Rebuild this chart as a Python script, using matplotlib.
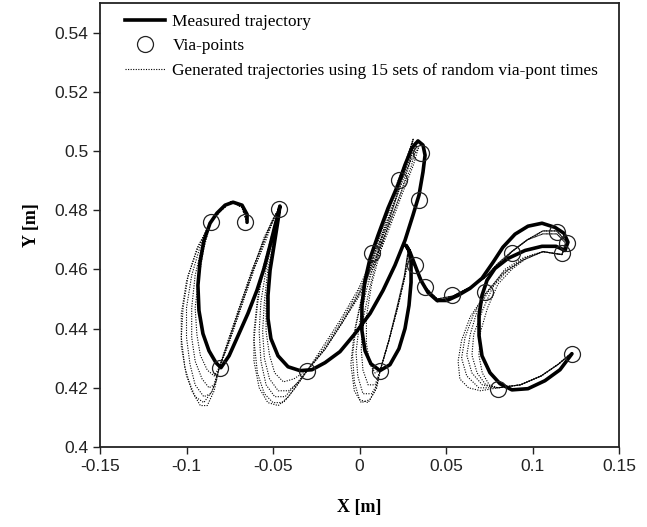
import matplotlib
matplotlib.use("Agg")
import matplotlib.pyplot as plt
from matplotlib.lines import Line2D

# measured pen trajectory for the cursive "abc" [m]
meas_x = [-0.0650, -0.0650, -0.0679, -0.0731, -0.0777, -0.0824, -0.0864, -0.0899, -0.0922, -0.0934,
          -0.0928, -0.0905, -0.0870, -0.0830, -0.0801, -0.0754, -0.0702, -0.0645, -0.0593, -0.0552,
          -0.0517, -0.0488, -0.0465, -0.0460, -0.0471, -0.0494, -0.0517, -0.0529, -0.0529, -0.0512,
          -0.0471, -0.0413, -0.0344, -0.0275, -0.0199, -0.0113, -0.0026, 0.0061, 0.0136, 0.0205,
          0.0263, 0.0309, 0.0344, 0.0367, 0.0379, 0.0367, 0.0338, 0.0303, 0.0263, 0.0222,
          0.0165, 0.0107, 0.0061, 0.0032, 0.0014, 0.0014, 0.0032, 0.0066, 0.0118, 0.0176,
          0.0228, 0.0263, 0.0286, 0.0298, 0.0298, 0.0286, 0.0269, 0.0292, 0.0321, 0.0355,
          0.0396, 0.0448, 0.0506, 0.0569, 0.0639, 0.0708, 0.0772, 0.0829, 0.0899, 0.0974,
          0.1055, 0.1130, 0.1182, 0.1205, 0.1188, 0.1136, 0.1055, 0.0957, 0.0858, 0.0783,
          0.0737, 0.0708, 0.0691, 0.0691, 0.0708, 0.0754, 0.0812, 0.0881, 0.0974, 0.1072,
          0.1159, 0.1228]
meas_y = [0.4759, 0.4786, 0.4817, 0.4827, 0.4817, 0.4790, 0.4756, 0.4698, 0.4624, 0.4546,
          0.4461, 0.4383, 0.4325, 0.4285, 0.4268, 0.4308, 0.4376, 0.4451, 0.4529, 0.4603,
          0.4681, 0.4749, 0.4800, 0.4814, 0.4766, 0.4681, 0.4597, 0.4512, 0.4434, 0.4366,
          0.4308, 0.4271, 0.4258, 0.4261, 0.4285, 0.4322, 0.4383, 0.4451, 0.4529, 0.4614,
          0.4698, 0.4783, 0.4851, 0.4929, 0.4986, 0.5020, 0.5034, 0.5010, 0.4953, 0.4885,
          0.4807, 0.4715, 0.4637, 0.4563, 0.4478, 0.4393, 0.4325, 0.4281, 0.4258, 0.4278,
          0.4332, 0.4400, 0.4478, 0.4556, 0.4624, 0.4664, 0.4681, 0.4658, 0.4614, 0.4563,
          0.4522, 0.4495, 0.4495, 0.4512, 0.4536, 0.4570, 0.4624, 0.4675, 0.4719, 0.4746,
          0.4756, 0.4742, 0.4722, 0.4692, 0.4664, 0.4678, 0.4678, 0.4664, 0.4637, 0.4603,
          0.4563, 0.4512, 0.4444, 0.4376, 0.4308, 0.4251, 0.4214, 0.4193, 0.4197, 0.4224,
          0.4261, 0.4315]

# via-points
via_x = [-0.0858, -0.0662, -0.0465, -0.0806, -0.0304, 0.0355, 0.0228, 0.0344, 0.0072, 0.0118,
         0.0321, 0.0379, 0.0535, 0.0725, 0.0881, 0.1142, 0.1199, 0.1170, 0.0800, 0.1228]
via_y = [0.4759, 0.4759, 0.4803, 0.4268, 0.4258, 0.4993, 0.4902, 0.4834, 0.4654, 0.4258,
         0.4614, 0.4539, 0.4512, 0.4522, 0.4654, 0.4725, 0.4688, 0.4654, 0.4197, 0.4315]

# generated trajectories (random via-point timing)
gen1_x = [-0.065, -0.068, -0.074, -0.080, -0.086, -0.093, -0.099, -0.102, -0.103, -0.101, -0.097, -0.092,
          -0.088, -0.084, -0.081, -0.075, -0.068, -0.061, -0.054, -0.048, -0.046, -0.050, -0.055, -0.059,
          -0.061, -0.061, -0.058, -0.053, -0.047, -0.041, -0.035, -0.030, -0.021, -0.011, -0.001, 0.008,
          0.016, 0.023, 0.028, 0.031, 0.027, 0.022, 0.015, 0.008, 0.002, -0.002, -0.004, -0.003,
          0.000, 0.005, 0.009, 0.012, 0.017, 0.022, 0.026, 0.029, 0.032, 0.038, 0.045, 0.054,
          0.064, 0.072, 0.080, 0.088, 0.097, 0.106, 0.114, 0.120, 0.117, 0.106, 0.094, 0.083,
          0.073, 0.066, 0.061, 0.059, 0.062, 0.069, 0.080, 0.093, 0.105, 0.115, 0.123]
gen1_y = [0.476, 0.481, 0.483, 0.480, 0.476, 0.468, 0.458, 0.447, 0.437, 0.427, 0.419, 0.414,
          0.414, 0.419, 0.427, 0.436, 0.448, 0.460, 0.471, 0.479, 0.481, 0.472, 0.461, 0.450,
          0.439, 0.429, 0.420, 0.415, 0.414, 0.417, 0.422, 0.426, 0.433, 0.442, 0.452, 0.463,
          0.475, 0.487, 0.497, 0.504, 0.497, 0.489, 0.477, 0.464, 0.452, 0.441, 0.431, 0.422,
          0.416, 0.415, 0.419, 0.426, 0.436, 0.447, 0.457, 0.464, 0.461, 0.454, 0.449, 0.451,
          0.454, 0.457, 0.461, 0.466, 0.470, 0.473, 0.473, 0.469, 0.465, 0.466, 0.463, 0.459,
          0.452, 0.445, 0.437, 0.430, 0.424, 0.420, 0.420, 0.421, 0.424, 0.428, 0.432]

gen2_x = [-0.065, -0.068, -0.074, -0.080, -0.086, -0.092, -0.097, -0.100, -0.100, -0.098, -0.095, -0.090,
          -0.086, -0.083, -0.081, -0.075, -0.068, -0.061, -0.055, -0.049, -0.046, -0.050, -0.054, -0.057,
          -0.058, -0.057, -0.054, -0.049, -0.043, -0.037, -0.030, -0.021, -0.011, -0.001, 0.008, 0.016,
          0.023, 0.029, 0.032, 0.028, 0.023, 0.016, 0.010, 0.004, 0.000, -0.002, -0.001, 0.002,
          0.007, 0.010, 0.012, 0.017, 0.022, 0.026, 0.028, 0.032, 0.038, 0.045, 0.054, 0.064,
          0.072, 0.080, 0.088, 0.097, 0.106, 0.114, 0.120, 0.117, 0.106, 0.095, 0.084, 0.075,
          0.068, 0.064, 0.062, 0.065, 0.071, 0.080, 0.093, 0.105, 0.115, 0.123]
gen2_y = [0.476, 0.481, 0.483, 0.480, 0.476, 0.468, 0.458, 0.447, 0.437, 0.428, 0.421, 0.417,
          0.418, 0.422, 0.427, 0.437, 0.449, 0.461, 0.471, 0.478, 0.481, 0.471, 0.460, 0.449,
          0.439, 0.429, 0.421, 0.417, 0.417, 0.421, 0.426, 0.434, 0.443, 0.453, 0.464, 0.476,
          0.487, 0.496, 0.503, 0.498, 0.490, 0.478, 0.465, 0.453, 0.442, 0.432, 0.424, 0.418,
          0.418, 0.421, 0.426, 0.436, 0.447, 0.457, 0.465, 0.461, 0.454, 0.450, 0.451, 0.454,
          0.457, 0.462, 0.466, 0.470, 0.473, 0.473, 0.469, 0.465, 0.466, 0.464, 0.460, 0.453,
          0.446, 0.438, 0.431, 0.425, 0.421, 0.420, 0.421, 0.424, 0.428, 0.432]

gen3_x = [-0.065, -0.068, -0.074, -0.080, -0.086, -0.091, -0.095, -0.097, -0.097, -0.095, -0.091, -0.087,
          -0.084, -0.081, -0.076, -0.069, -0.062, -0.055, -0.050, -0.046, -0.049, -0.053, -0.055, -0.056,
          -0.055, -0.052, -0.047, -0.041, -0.035, -0.030, -0.020, -0.010, 0.000, 0.009, 0.017, 0.024,
          0.030, 0.033, 0.029, 0.024, 0.017, 0.011, 0.006, 0.002, 0.001, 0.002, 0.005, 0.009,
          0.012, 0.017, 0.022, 0.026, 0.028, 0.032, 0.038, 0.045, 0.054, 0.064, 0.072, 0.080,
          0.088, 0.097, 0.106, 0.114, 0.119, 0.117, 0.106, 0.096, 0.086, 0.077, 0.071, 0.066,
          0.065, 0.068, 0.073, 0.080, 0.093, 0.105, 0.115, 0.123]
gen3_y = [0.476, 0.481, 0.483, 0.480, 0.476, 0.468, 0.458, 0.447, 0.437, 0.429, 0.423, 0.420,
          0.421, 0.427, 0.436, 0.448, 0.460, 0.470, 0.477, 0.481, 0.471, 0.460, 0.449, 0.439,
          0.430, 0.423, 0.419, 0.419, 0.422, 0.426, 0.433, 0.442, 0.452, 0.463, 0.475, 0.486,
          0.495, 0.502, 0.497, 0.490, 0.478, 0.466, 0.454, 0.443, 0.433, 0.426, 0.421, 0.421,
          0.426, 0.436, 0.448, 0.458, 0.466, 0.461, 0.454, 0.450, 0.451, 0.454, 0.457, 0.462,
          0.466, 0.470, 0.472, 0.472, 0.469, 0.465, 0.466, 0.464, 0.460, 0.454, 0.446, 0.438,
          0.431, 0.425, 0.421, 0.420, 0.421, 0.424, 0.428, 0.432]

gen4_x = [-0.065, -0.068, -0.074, -0.080, -0.086, -0.090, -0.093, -0.095, -0.094, -0.092, -0.088, -0.084,
          -0.081, -0.076, -0.070, -0.063, -0.056, -0.050, -0.046, -0.049, -0.052, -0.054, -0.054, -0.052,
          -0.049, -0.044, -0.038, -0.030, -0.020, -0.010, 0.001, 0.010, 0.018, 0.025, 0.031, 0.034,
          0.030, 0.024, 0.018, 0.012, 0.007, 0.004, 0.004, 0.006, 0.009, 0.012, 0.017, 0.022,
          0.026, 0.028, 0.032, 0.038, 0.045, 0.054, 0.064, 0.072, 0.080, 0.088, 0.097, 0.106,
          0.114, 0.119, 0.117, 0.106, 0.097, 0.088, 0.080, 0.074, 0.070, 0.069, 0.071, 0.075,
          0.080, 0.093, 0.105, 0.115, 0.123]
gen4_y = [0.476, 0.481, 0.483, 0.480, 0.476, 0.467, 0.457, 0.447, 0.438, 0.431, 0.426, 0.424,
          0.427, 0.435, 0.446, 0.458, 0.469, 0.477, 0.481, 0.471, 0.460, 0.449, 0.439, 0.431,
          0.425, 0.422, 0.423, 0.426, 0.433, 0.442, 0.452, 0.463, 0.475, 0.486, 0.495, 0.501,
          0.497, 0.490, 0.478, 0.466, 0.455, 0.444, 0.435, 0.428, 0.425, 0.426, 0.436, 0.448,
          0.458, 0.466, 0.461, 0.454, 0.450, 0.451, 0.454, 0.457, 0.462, 0.466, 0.470, 0.472,
          0.472, 0.469, 0.465, 0.466, 0.464, 0.460, 0.455, 0.447, 0.439, 0.431, 0.425, 0.421,
          0.420, 0.421, 0.424, 0.428, 0.432]

gen5_x = [-0.065, -0.068, -0.074, -0.080, -0.086, -0.094, -0.100, -0.103, -0.103, -0.100, -0.095, -0.090,
          -0.085, -0.081, -0.075, -0.068, -0.061, -0.054, -0.049, -0.046, -0.051, -0.056, -0.059, -0.061,
          -0.059, -0.055, -0.050, -0.044, -0.037, -0.030, -0.020, -0.010, 0.000, 0.009, 0.017, 0.024,
          0.029, 0.031, 0.027, 0.021, 0.014, 0.007, 0.001, -0.003, -0.005, -0.003, 0.001, 0.006,
          0.010, 0.012, 0.017, 0.022, 0.026, 0.028, 0.032, 0.038, 0.045, 0.054, 0.064, 0.072,
          0.080, 0.088, 0.097, 0.106, 0.114, 0.120, 0.117, 0.106, 0.094, 0.082, 0.072, 0.064,
          0.059, 0.057, 0.058, 0.063, 0.070, 0.080, 0.093, 0.105, 0.115, 0.123]
gen5_y = [0.476, 0.481, 0.483, 0.480, 0.476, 0.467, 0.456, 0.445, 0.434, 0.424, 0.417, 0.415,
          0.419, 0.427, 0.436, 0.448, 0.460, 0.470, 0.478, 0.481, 0.471, 0.460, 0.448, 0.436,
          0.425, 0.418, 0.415, 0.415, 0.420, 0.426, 0.433, 0.442, 0.452, 0.463, 0.475, 0.486,
          0.496, 0.504, 0.497, 0.488, 0.476, 0.463, 0.450, 0.439, 0.428, 0.419, 0.415, 0.416,
          0.420, 0.426, 0.436, 0.447, 0.457, 0.465, 0.461, 0.454, 0.449, 0.451, 0.454, 0.457,
          0.461, 0.466, 0.470, 0.473, 0.473, 0.469, 0.465, 0.466, 0.463, 0.458, 0.451, 0.444,
          0.436, 0.429, 0.423, 0.420, 0.419, 0.420, 0.421, 0.424, 0.428, 0.432]

gen_x = [gen1_x, gen2_x, gen3_x, gen4_x, gen5_x]
gen_y = [gen1_y, gen2_y, gen3_y, gen4_y, gen5_y]

x_ticks = [-0.15, -0.1, -0.05, 0, 0.05, 0.1, 0.15]
x_tick_labels = ["-0.15", "-0.1", "-0.05", "0", "0.05", "0.1", "0.15"]
y_ticks = [0.4, 0.42, 0.44, 0.46, 0.48, 0.5, 0.52, 0.54]
y_tick_labels = ["0.4", "0.42", "0.44", "0.46", "0.48", "0.5", "0.52", "0.54"]

plt.rcParams["font.family"] = "Liberation Sans"
dotted = (0, (1, 1.3))

fig = plt.figure(figsize=(6.47, 5.27), dpi=100)
ax = fig.add_axes([100 / 647, 80 / 527, 519 / 647, 444 / 527])

for gx, gy in zip(gen_x, gen_y):
    ax.plot(gx, gy, color="black", lw=0.8, linestyle=dotted, zorder=1)
ax.plot(meas_x, meas_y, color="black", lw=2.6, solid_capstyle="round", solid_joinstyle="round", zorder=2)
ax.plot(via_x, via_y, linestyle="none", marker="o", markersize=11.5, markerfacecolor="none",
        markeredgecolor="#222222", markeredgewidth=0.9, zorder=3)

ax.set_xlim(-0.15, 0.15)
ax.set_ylim(0.4, 0.55)
ax.set_xticks(x_ticks)
ax.set_xticklabels(x_tick_labels)
ax.set_yticks(y_ticks)
ax.set_yticklabels(y_tick_labels)
ax.tick_params(direction="out", length=5, width=1, labelsize=12.5, colors="#222222")
for sp in ax.spines.values():
    sp.set_linewidth(1.3)
    sp.set_color("#222222")

ax.set_xlabel("X [m]", family="Liberation Serif", fontweight="bold", fontsize=13, labelpad=18)
ax.set_ylabel("Y [m]", family="Liberation Serif", fontweight="bold", fontsize=13, labelpad=10)

handles = [
    Line2D([], [], color="black", lw=2.6),
    Line2D([], [], linestyle="none", marker="o", markersize=11.5, markerfacecolor="none",
           markeredgecolor="#222222", markeredgewidth=0.9),
    Line2D([], [], color="black", lw=0.8, linestyle=dotted),
]
labels = ["Measured trajectory", "Via-points",
          "Generated trajectories using 15 sets of random via-pont times"]
ax.legend(handles, labels, loc="upper left", bbox_to_anchor=(0.025, 1.003), frameon=False,
          prop={"family": "Liberation Serif", "size": 12.4}, handlelength=2.3, handletextpad=0.45,
          labelspacing=0.5, borderaxespad=0.3)

fig.savefig("out.png", dpi=100)
